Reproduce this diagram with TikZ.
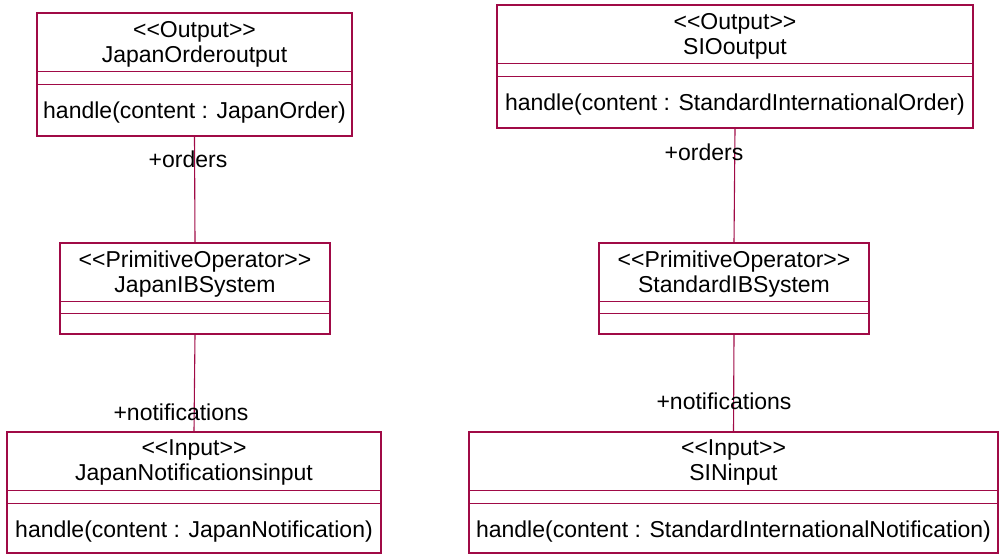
\documentclass[tikz,border=0pt]{standalone}
\usepackage{fontspec}
\setmainfont{Liberation Sans}
\usetikzlibrary{calc}
\definecolor{umlline}{RGB}{160,10,70}

\begin{document}
\begin{tikzpicture}[x=1pt,y=-1pt,
    umlbox/.style={draw=umlline, line width=1.1pt, inner sep=0pt},
    boxtext/.style={inner sep=0pt, align=center, font=\fontsize{23}{25}\selectfont},
    roletext/.style={inner sep=0pt, font=\fontsize{23}{25}\selectfont}]
    \useasboundingbox (0,0) rectangle (1000,555);
    % class boxes
    \node[umlbox, minimum width=315pt, minimum height=123pt] (jout) at (194.5,74.5) {};
    \node[umlbox, minimum width=476pt, minimum height=123pt] (siout) at (735,66.5) {};
    \node[umlbox, minimum width=270pt, minimum height=91pt] (jsys) at (195,288.5) {};
    \node[umlbox, minimum width=270pt, minimum height=91pt] (ssys) at (734,288.5) {};
    \node[umlbox, minimum width=374pt, minimum height=121pt] (jin) at (194,492.5) {};
    \node[umlbox, minimum width=529pt, minimum height=121pt] (sin) at (733.5,492.5) {};
    \foreach \b/\hb in {jout/72, siout/72, jsys/71, ssys/71, jin/72, sin/72} {
        \draw[umlline, line width=1.1pt] ($(\b.north west)+(0,59)$) -- ($(\b.north east)+(0,59)$);
        \draw[umlline, line width=1.1pt] ($(\b.north west)+(0,\hb)$) -- ($(\b.north east)+(0,\hb)$);
    }
    % names and operations
    \node[boxtext] (jouttitle) at ($(jout.north)+(0,31.5)$) {<{}<Output>{}>\\JapanOrderoutput};
    \node[boxtext] (joutop) at ($(jout.north)+(0,100)$) {handle(content : JapanOrder)};
    \node[boxtext] (siouttitle) at ($(siout.north)+(0,31.5)$) {<{}<Output>{}>\\SIOoutput};
    \node[boxtext] (sioutop) at ($(siout.north)+(0,100)$) {handle(content : StandardInternationalOrder)};
    \node[boxtext] (jsystitle) at ($(jsys.north)+(0,31.5)$) {<{}<PrimitiveOperator>{}>\\JapanIBSystem};
    \node[boxtext] (ssystitle) at ($(ssys.north)+(0,31.5)$) {<{}<PrimitiveOperator>{}>\\StandardIBSystem};
    \node[boxtext] (jintitle) at ($(jin.north)+(0,31.5)$) {<{}<Input>{}>\\JapanNotificationsinput};
    \node[boxtext] (jinop) at ($(jin.north)+(0,100)$) {handle(content : JapanNotification)};
    \node[boxtext] (sintitle) at ($(sin.north)+(0,31.5)$) {<{}<Input>{}>\\SINinput};
    \node[boxtext] (sinop) at ($(sin.north)+(0,100)$) {handle(content : StandardInternationalNotification)};
    % associations
    \draw[umlline, line width=1.1pt] (jout.south) -- (jsys.north);
    \draw[umlline, line width=1.1pt] (jsys.south) -- (jin.north);
    \draw[umlline, line width=1.1pt] (siout.south) -- (ssys.north);
    \draw[umlline, line width=1.1pt] (ssys.south) -- (sin.north);
    \node[roletext] (jorders) at (188,159) {+orders};
    \node[roletext] (sorders) at (704,152) {+orders};
    \node[roletext] (jnotes) at (181,412) {+notifications};
    \node[roletext] (snotes) at (724,401) {+notifications};
\end{tikzpicture}
\end{document}
